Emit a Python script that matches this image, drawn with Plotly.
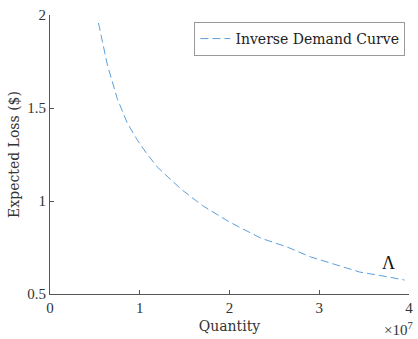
import plotly.graph_objects as go

quantity = [5.4e6, 6.4e6, 7.5e6, 8.6e6, 9.7e6, 1.07e7, 1.2e7, 1.47e7, 1.7e7,
            2.0e7, 2.35e7, 2.64e7, 2.9e7, 3.27e7, 3.45e7, 3.71e7, 3.95e7]
expected_loss = [1.957, 1.73, 1.55, 1.42, 1.33, 1.26, 1.18, 1.06, 0.975,
                 0.887, 0.80, 0.753, 0.70, 0.646, 0.618, 0.597, 0.575]
x_tickvals = [0, 1e7, 2e7, 3e7, 4e7]
x_ticktext = ["0", "1", "2", "3", "4"]
y_tickvals = [0.5, 1, 1.5, 2]
y_ticktext = ["0.5", "1", "1.5", "2"]
label_point = (3.77e7, 0.667)

font = "Liberation Serif, DejaVu Serif, serif"
wide_font = "DejaVu Serif, Liberation Serif, serif"
axis_color = "#555555"

fig = go.Figure()
fig.add_trace(go.Scatter(
    x=quantity, y=expected_loss, mode="lines",
    name="Inverse Demand Curve",
    line=dict(color="#5d9fdb", width=1, dash="8px,4px"),
))

fig.add_annotation(x=label_point[0], y=label_point[1], text="Λ", showarrow=False,
                   font=dict(family=font, size=18, color="#111111"))
fig.add_annotation(x=1, y=0, xref="paper", yref="paper", text="×10<sup>7</sup>",
                   showarrow=False, xanchor="right", yanchor="top", yshift=-24, xshift=6,
                   font=dict(family=font, size=15, color="#333333"))

fig.update_layout(
    width=418, height=339,
    margin=dict(l=50, r=5, t=15, b=45),
    paper_bgcolor="white", plot_bgcolor="white",
    font=dict(family=font, size=15, color="#333333"),
    showlegend=True,
    legend=dict(x=0.99, y=0.975, xanchor="right", yanchor="top",
                bordercolor="#999999", borderwidth=1, bgcolor="white",
                font=dict(family=wide_font, size=14, color="#222222"),
                itemwidth=30, tracegroupgap=0),
    xaxis=dict(range=[0, 4e7], tickvals=x_tickvals, ticktext=x_ticktext,
               showgrid=False, zeroline=False, showline=True, linecolor=axis_color,
               linewidth=1, ticks="inside", ticklen=4, tickcolor=axis_color,
               title=dict(text="Quantity", font=dict(family=wide_font, size=14), standoff=6)),
    yaxis=dict(range=[0.5, 2], tickvals=y_tickvals, ticktext=y_ticktext,
               showgrid=False, zeroline=False, showline=True, linecolor=axis_color,
               linewidth=1, ticks="inside", ticklen=4, tickcolor=axis_color,
               title=dict(text="Expected Loss ($)", font=dict(family=wide_font, size=14), standoff=4)),
)

fig.write_html("out.html", config={"displayModeBar": False},
               post_script="document.body.style.margin='0';")
